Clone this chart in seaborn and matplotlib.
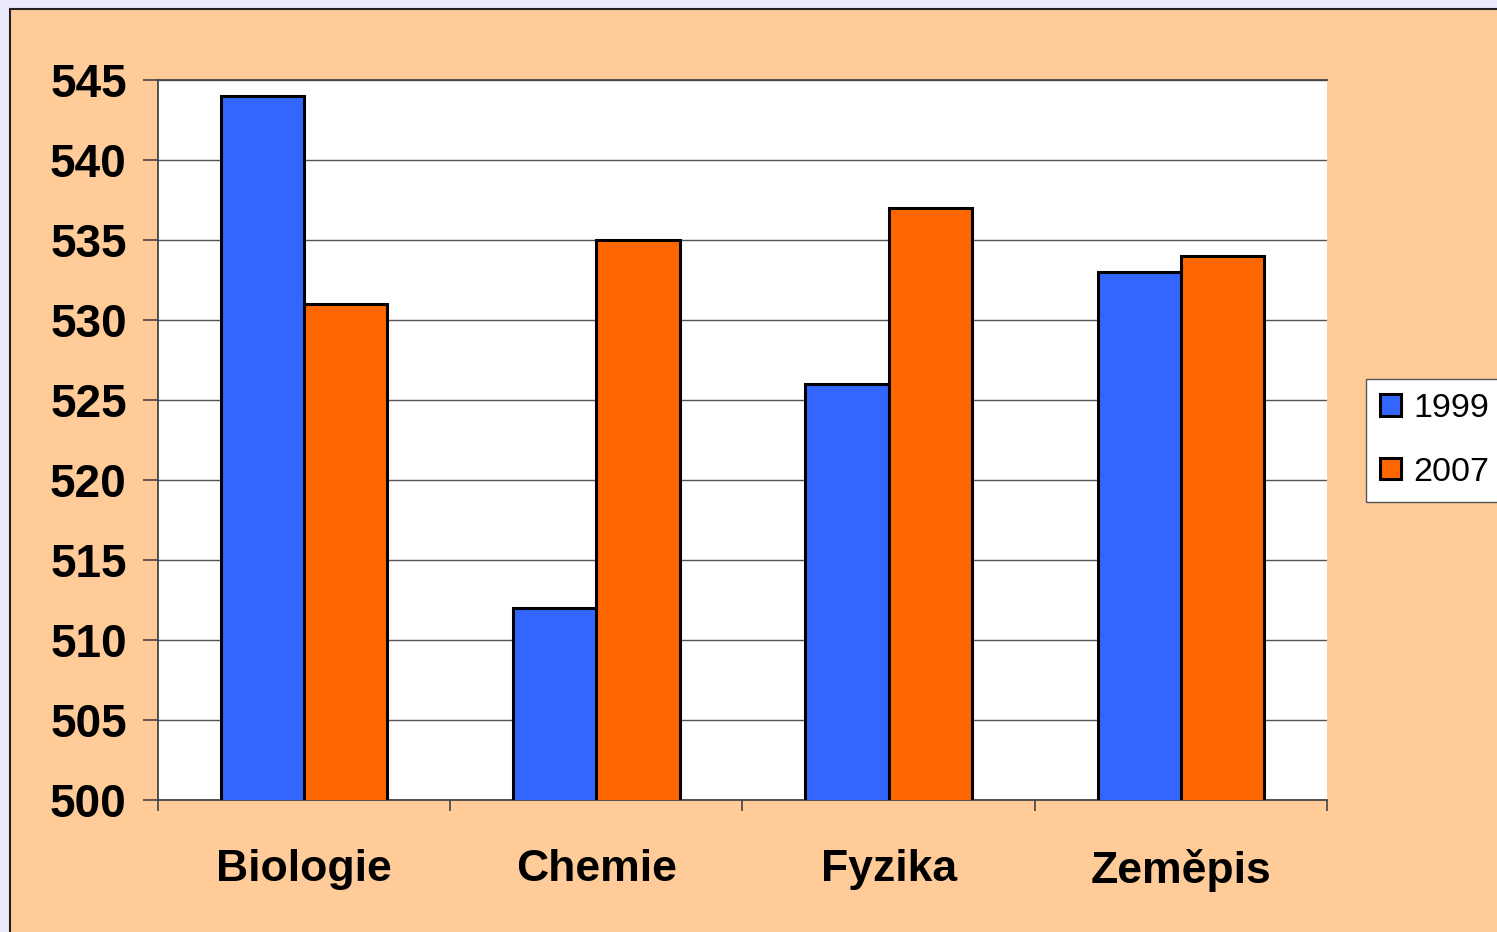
import matplotlib
matplotlib.use("Agg")
import matplotlib.pyplot as plt
from matplotlib.patches import Rectangle
import seaborn as sns
import pandas as pd

subjects = ["Biologie", "Chemie", "Fyzika", "Zeměpis"]
scores_1999 = [544, 512, 526, 533]
scores_2007 = [531, 535, 537, 534]
years = ["1999", "2007"]
y_ticks = [500, 505, 510, 515, 520, 525, 530, 535, 540, 545]

df = pd.DataFrame({
    "subject": subjects * 2,
    "year": [years[0]] * len(subjects) + [years[1]] * len(subjects),
    "score": scores_1999 + scores_2007,
})

sns.set_theme(style="white")
plt.rcParams["font.family"] = ["Liberation Sans", "DejaVu Sans"]
plt.rcParams["text.color"] = "black"

W, H = 1497, 932
fig = plt.figure(figsize=(W / 100, H / 100), dpi=100)
fig.patch.set_facecolor("#EAEAFB")

# Peach chart frame, running off the right and bottom edges
fig.patches.append(Rectangle((10 / W, -0.05), 1.1, 1 - 9 / H + 0.05,
                             transform=fig.transFigure, facecolor="#FFCC99",
                             edgecolor="#222222", linewidth=1.5, zorder=-10))

ax = fig.add_axes([158 / W, 1 - 800 / H, (1327 - 158) / W, (800 - 80) / H])
ax.set_zorder(1)
ax.set_facecolor("white")

sns.barplot(data=df, x="subject", y="score", hue="year", order=subjects,
            hue_order=years, palette=["#3366FF", "#FF6600"], width=0.57,
            gap=0, edgecolor="black", linewidth=2.2, saturation=1,
            legend=True, ax=ax, zorder=3)

ax.set_ylim(500, 545)
ax.set_xlim(-0.5, len(subjects) - 0.5)
ax.set_yticks(y_ticks)
ax.set_yticklabels([str(v) for v in y_ticks], fontsize=33, fontweight="bold",
                   color="black")
ax.grid(axis="y", color="#555555", linewidth=1.0, zorder=0)
ax.set_axisbelow(True)

# category labels at centers, tick marks at category boundaries
ax.set_xticks([i - 0.5 for i in range(len(subjects) + 1)])
ax.set_xticklabels([])
ax.set_xticks(range(len(subjects)), minor=True)
ax.set_xticklabels(subjects, minor=True, fontsize=32, fontweight="bold",
                   color="black")
ax.tick_params(axis="x", which="major", direction="out", length=8,
               width=1.2, color="#444444", bottom=True)
ax.tick_params(axis="x", which="minor", length=0, pad=35)
ax.tick_params(axis="y", direction="out", length=11, width=1.2,
               color="#444444", left=True, pad=11.5)

ax.set_xlabel("")
ax.set_ylabel("")
for side in ["left", "bottom", "top"]:
    ax.spines[side].set_visible(True)
    ax.spines[side].set_color("#444444")
    ax.spines[side].set_linewidth(1.3)
ax.spines["right"].set_visible(False)

leg = ax.legend(loc="upper left", bbox_to_anchor=(1366 / W, 1 - 379 / H),
                bbox_transform=fig.transFigure, fontsize=24.5, frameon=True,
                fancybox=False, edgecolor="#555555", framealpha=1,
                handlelength=0.6, handleheight=0.6, handletextpad=0.38,
                borderpad=0.42, labelspacing=0.95, borderaxespad=0)
leg.get_frame().set_linewidth(1.0)
for h in leg.legend_handles:
    h.set_linewidth(2.2)
    h.set_edgecolor("black")
leg.set_title(None)

fig.savefig("out.png", dpi=100, facecolor=fig.get_facecolor())
